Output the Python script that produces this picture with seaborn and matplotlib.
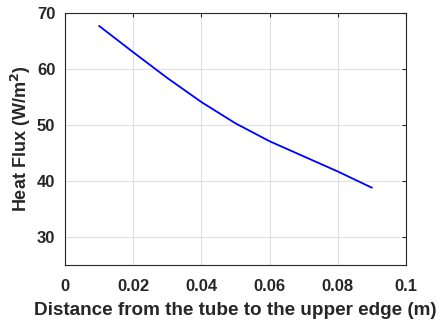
import matplotlib
matplotlib.use("Agg")
import matplotlib.pyplot as plt
import seaborn as sns
import pandas as pd

# Heat flux versus distance from the tube to the upper edge
distance_m = [0.01, 0.02, 0.03, 0.04, 0.05, 0.06, 0.07, 0.08, 0.09]
heat_flux = [67.7, 63.0, 58.4, 54.1, 50.3, 47.1, 44.4, 41.7, 38.8]

x_ticks = [0, 0.02, 0.04, 0.06, 0.08, 0.1]
x_tick_labels = ["0", "0.02", "0.04", "0.06", "0.08", "0.1"]
y_ticks = [30, 40, 50, 60, 70]

sns.set_style("white")
plt.rcParams["font.family"] = ["Liberation Sans", "DejaVu Sans"]
plt.rcParams["font.weight"] = "bold"

df = pd.DataFrame({"distance": distance_m, "flux": heat_flux})

fig = plt.figure(figsize=(4.42, 3.27), dpi=100)
ax = fig.add_axes([0.147, 0.1896, 0.7716, 0.7706])

sns.lineplot(data=df, x="distance", y="flux", ax=ax, color="#0000ff",
             linewidth=1.3, zorder=3)

ax.set_xlim(0, 0.1)
ax.set_ylim(25, 70)
ax.set_xticks(x_ticks)
ax.set_xticklabels(x_tick_labels)
ax.set_yticks(y_ticks)

text_color = "#262626"
ax.grid(True, color="#e0e0e0", linewidth=0.8)
ax.set_axisbelow(True)
for s in ax.spines.values():
    s.set_visible(True)
    s.set_color(text_color)
    s.set_linewidth(0.8)

ax.tick_params(direction="in", length=3, width=0.8, top=True, right=True,
               labelsize=12, colors=text_color)
ax.tick_params(axis="x", pad=10)
ax.tick_params(axis="y", pad=7)
for lbl in ax.get_xticklabels() + ax.get_yticklabels():
    lbl.set_fontweight("bold")

ax.set_xlabel("Distance from the tube to the upper edge (m)", fontsize=13.6,
              fontweight="bold", color=text_color, labelpad=6)
ax.set_ylabel("Heat Flux (W/m$^\\mathbf{2}$)", fontsize=13,
              fontweight="bold", color=text_color, labelpad=3)

fig.savefig("out.png", dpi=100)
